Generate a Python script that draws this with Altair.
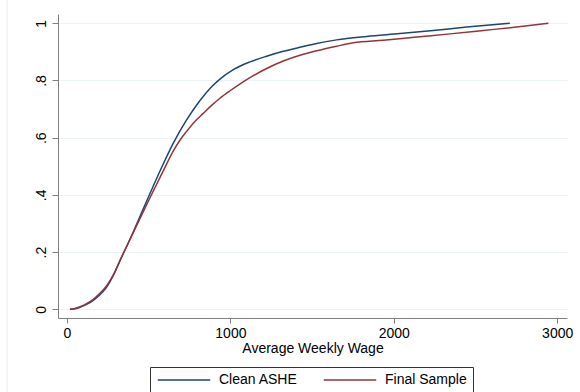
import altair as alt
import pandas as pd

# Clean ASHE CDF (wage, cumulative share)
ashe_wage = [18, 50, 80, 120, 161, 200, 243, 283, 335, 390, 447, 508, 589, 650, 732,
             814, 885, 936, 1018, 1120, 1222, 1324, 1426, 1528, 1650, 1834, 2038, 2242,
             2446, 2710]
ashe_cdf = [0.0, 0.002, 0.007, 0.017, 0.031, 0.05, 0.078, 0.118, 0.183, 0.25, 0.325,
            0.405, 0.508, 0.58, 0.662, 0.73, 0.778, 0.805, 0.838, 0.865, 0.885, 0.902,
            0.916, 0.929, 0.942, 0.954, 0.964, 0.975, 0.987, 1.0]

# Final Sample CDF
final_wage = [18, 50, 80, 120, 161, 200, 243, 283, 335, 390, 447, 508, 539, 589, 620,
              650, 692, 732, 780, 834, 885, 936, 1000, 1069, 1120, 1222, 1324, 1426,
              1528, 1650, 1752, 1936, 2140, 2344, 2548, 2752, 2946]
final_cdf = [0.0, 0.003, 0.009, 0.02, 0.035, 0.055, 0.083, 0.12, 0.184, 0.25, 0.318,
             0.39, 0.426, 0.484, 0.52, 0.553, 0.592, 0.622, 0.655, 0.685, 0.713, 0.738,
             0.765, 0.792, 0.81, 0.842, 0.868, 0.888, 0.904, 0.92, 0.932, 0.941, 0.952,
             0.963, 0.975, 0.987, 1.0]

series_names = ["Clean ASHE", "Final Sample"]
series_colors = ["#1a476f", "#90353b"]
x_ticks = [0, 1000, 2000, 3000]
y_ticks = [0, 0.2, 0.4, 0.6, 0.8, 1.0]

rows = []
for i, (w, c) in enumerate(zip(ashe_wage, ashe_cdf)):
    rows.append({"wage": w, "cdf": c, "series": series_names[0], "order": i})
for i, (w, c) in enumerate(zip(final_wage, final_cdf)):
    rows.append({"wage": w, "cdf": c, "series": series_names[1], "order": i})
df = pd.DataFrame(rows)

FONT = "Liberation Sans"

lines = alt.Chart(df).mark_line(strokeWidth=1.5, clip=True, interpolate="monotone").encode(
    x=alt.X("wage:Q",
            scale=alt.Scale(domain=[-55, 3060], nice=False, zero=False),
            axis=alt.Axis(values=x_ticks, format="d", title="Average Weekly Wage",
                          grid=False, tickSize=5, labelPadding=3, titlePadding=1,
                          domainColor="#808080", tickColor="#808080",
                          labelFont=FONT, labelFontSize=14, labelColor="#000000",
                          titleFont=FONT, titleFontSize=14, titleFontWeight="normal",
                          titleColor="#000000")),
    y=alt.Y("cdf:Q",
            scale=alt.Scale(domain=[-0.0304, 1.0325], nice=False, zero=False),
            axis=alt.Axis(values=y_ticks, title=None, grid=True, gridColor="#eaf2f3",
                          gridWidth=1.2, tickSize=6, labelPadding=7, labelAngle=270,
                          labelAlign="center", labelBaseline="alphabetic",
                          labelExpr="datum.value == 0 ? '0' : datum.value == 1 ? '1' : replace(format(datum.value, '.1f'), '0.', '.')",
                          domainColor="#808080", tickColor="#808080",
                          labelFont=FONT, labelFontSize=14, labelColor="#000000")),
    color=alt.Color("series:N",
                    scale=alt.Scale(domain=series_names, range=series_colors),
                    legend=alt.Legend(title=None, orient="none", legendX=92, legendY=353,
                                      direction="horizontal",
                                      symbolType="M-5,0H5", symbolSize=110,
                                      symbolStrokeWidth=1.5, symbolOffset=21,
                                      labelOffset=28, columnPadding=22,
                                      labelFont=FONT, labelFontSize=14,
                                      labelColor="#000000", padding=6,
                                      strokeColor="#333333", fillColor="#ffffff")),
    order="order:Q",
)

border = alt.Chart(pd.DataFrame({"a": [0]})).mark_rule(color="#e6eef0", strokeWidth=1).encode(
    x=alt.value(-51), y=alt.value(-14), y2=alt.value(378)
)

chart = alt.layer(border, lines).properties(
    width=509, height=304,
    autosize=alt.AutoSizeParams(type="none"),
    padding={"left": 58, "top": 14, "right": 13, "bottom": 74},
    background="#ffffff",
).configure_view(stroke=None)

chart.save("out.html", embed_options={"renderer": "svg", "actions": False})
